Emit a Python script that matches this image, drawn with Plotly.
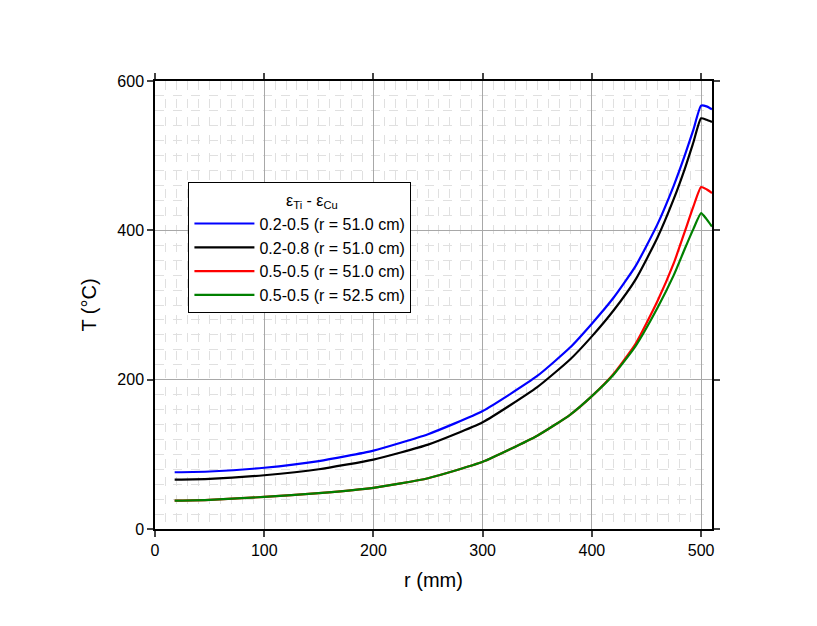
import plotly.graph_objects as go

r = [18, 50, 100, 150, 200, 250, 300, 350, 380, 400, 420, 440, 460, 475, 485, 493, 500, 505, 510]
blue = [76, 77, 82, 91, 105, 127, 158, 205, 243, 275, 310, 352, 408, 460, 500, 535, 567, 566, 562]
black = [66, 67, 72, 80, 93, 113, 143, 190, 227, 258, 293, 334, 390, 442, 482, 518, 550, 548, 545]
red = [38, 39, 43, 48, 55, 68, 90, 125, 153, 178, 208, 248, 305, 356, 398, 432, 458, 455, 450]
green = [38, 39, 43, 48, 55, 68, 90, 125, 153, 178, 207, 245, 296, 340, 375, 402, 423, 415, 405]

names = ["0.2-0.5 (r = 51.0 cm)", "0.2-0.8 (r = 51.0 cm)", "0.5-0.5 (r = 51.0 cm)", "0.5-0.5 (r = 52.5 cm)"]
colors = ["#0000ff", "#000000", "#ff0000", "#008000"]

fig = go.Figure()
fig.add_trace(go.Scatter(x=[None], y=[None], mode="lines", line=dict(color="rgba(0,0,0,0)"),
                         name="      ε<sub>Ti</sub> - ε<sub>Cu</sub>"))
for ys, n, c in zip([blue, black, red, green], names, colors):
    fig.add_trace(go.Scatter(x=r, y=ys, mode="lines", name=n,
                             line=dict(color=c, width=2.2, shape="spline", smoothing=0.5)))

ax = dict(showline=True, linecolor="black", linewidth=1.5, mirror="ticks", ticks="outside",
          ticklen=6, tickwidth=1.5, gridcolor="#a8a8a8", gridwidth=1, zeroline=False, automargin=False,
          tickfont=dict(size=16, family="Liberation Sans", color="black"),
          minor=dict(showgrid=True, gridcolor="#e0e0e0", griddash="dash", ticks=""))
fig.update_xaxes(range=[0, 510], dtick=100,
                 title=dict(text="r (mm)", font=dict(size=20, family="Liberation Sans", color="black")), **ax)
fig.update_layout(xaxis_minor_dtick=10)
fig.update_yaxes(range=[0, 600], dtick=200,
                 title=dict(text="T (°C)", font=dict(size=20, family="Liberation Sans", color="black")), **ax)
fig.update_layout(yaxis_minor_dtick=20)
fig.update_layout(width=817, height=626, plot_bgcolor="white", paper_bgcolor="white",
                  margin=dict(l=147, r=113, t=73, b=105),
                  legend=dict(x=0.06, y=0.775, xanchor="left", yanchor="top", bgcolor="white",
                              bordercolor="black", borderwidth=1, tracegroupgap=0, itemwidth=60,
                              font=dict(size=16, family="Liberation Sans", color="black")))
fig.write_html("out.html")
